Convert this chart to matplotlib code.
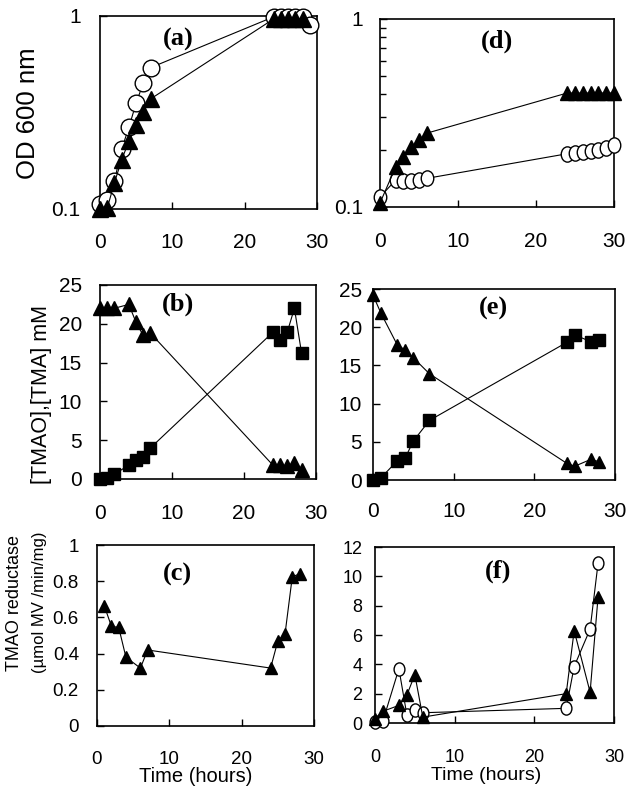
import matplotlib
matplotlib.use("Agg")
import matplotlib.pyplot as plt
from matplotlib.path import Path
from matplotlib.transforms import Affine2D
from matplotlib.ticker import FixedLocator, NullLocator, FixedFormatter

# ---------------- data ----------------
# (a) OD600
a_circ_t = [0, 1, 2, 3, 4, 5, 6, 7, 24, 25, 26, 27, 28, 29]
a_circ_od = [0.106, 0.111, 0.14, 0.205, 0.265, 0.355, 0.45, 0.54, 0.99, 0.99, 0.99, 0.99, 0.99, 0.9]
a_tri_t = [0, 1, 2, 3, 4, 5, 6, 7, 24, 25, 26, 27, 28]
a_tri_od = [0.1, 0.101, 0.137, 0.18, 0.225, 0.272, 0.318, 0.372, 0.965, 0.965, 0.965, 0.965, 0.965]

# (d) OD600
d_tri_t = [0, 2, 3, 4, 5, 6, 24, 25, 26, 27, 28, 29, 30]
d_tri_od = [0.105, 0.163, 0.184, 0.208, 0.227, 0.247, 0.404, 0.404, 0.404, 0.404, 0.404, 0.404, 0.404]
d_circ_t = [0, 2, 3, 4, 5, 6, 24, 25, 26, 27, 28, 29, 30]
d_circ_od = [0.113, 0.139, 0.137, 0.137, 0.14, 0.142, 0.192, 0.194, 0.196, 0.198, 0.201, 0.205, 0.214]

# (b) TMAO (triangles) / TMA (squares), mM
b_tri_t = [0, 1, 2, 4, 5, 6, 7, 24, 25, 26, 27, 28]
b_tri_c = [22.0, 22.0, 22.0, 22.5, 20.2, 18.5, 18.8, 1.8, 1.8, 1.7, 2.0, 1.1]
b_sq_t = [0, 1, 2, 4, 5, 6, 7, 24, 25, 26, 27, 28]
b_sq_c = [0.0, 0.1, 0.6, 1.8, 2.5, 2.8, 4.0, 18.9, 17.9, 18.9, 22.0, 16.2]

# (e)
e_tri_t = [0, 1, 3, 4, 5, 7, 24, 25, 27, 28]
e_tri_c = [24.2, 21.8, 17.7, 17.0, 16.0, 13.9, 2.2, 1.8, 2.7, 2.4]
e_sq_t = [0, 1, 3, 4, 5, 7, 24, 25, 27, 28]
e_sq_c = [0.0, 0.3, 2.5, 2.9, 5.1, 7.8, 18.0, 19.0, 18.1, 18.3]

# (c) TMAO reductase
c_tri_t = [1, 2, 3, 4, 6, 7, 24, 25, 26, 27, 28]
c_tri_v = [0.665, 0.55, 0.545, 0.38, 0.32, 0.42, 0.32, 0.47, 0.51, 0.825, 0.84]

# (f) TMAO reductase
f_circ_t = [0, 1, 3, 4, 5, 6, 24, 25, 27, 28]
f_circ_v = [0.1, 0.15, 3.7, 0.55, 0.9, 0.7, 1.0, 3.85, 6.4, 10.9]
f_tri_t = [0, 1, 3, 4, 5, 6, 24, 25, 27, 28]
f_tri_v = [0.3, 0.8, 1.2, 1.9, 3.3, 0.4, 2.0, 6.3, 2.1, 8.6]

x_ticks = [0, 10, 20, 30]
x_ticklabels = ["0", "10", "20", "30"]

# ---------------- figure ----------------
W, H = 631, 799
fig = plt.figure(figsize=(W / 100, H / 100), dpi=100)
SANS = "Liberation Sans"
SERIF = "Liberation Serif"

def add_ax(x0, x1, y0, y1):
    return fig.add_axes([x0 / W, 1 - y1 / H, (x1 - x0) / W, (y1 - y0) / H])

ellipse = Path.unit_circle().transformed(Affine2D().scale(0.82, 1.0))

def style(ax, fs, xpad, ypad):
    for s in ax.spines.values():
        s.set_linewidth(1.2)
    ax.set_xlim(0, 30)
    ax.xaxis.set_major_locator(FixedLocator(x_ticks))
    ax.xaxis.set_major_formatter(FixedFormatter(x_ticklabels))
    ax.tick_params(axis="x", direction="in", length=5, width=1, pad=xpad, labelsize=fs)
    ax.tick_params(axis="y", direction="in", length=5, width=1, pad=ypad, labelsize=fs)
    for lab in ax.get_xticklabels() + ax.get_yticklabels():
        lab.set_fontfamily(SANS)

def plot(ax, x, y, marker, ms, mfc, z):
    ax.plot(x, y, color="black", lw=0.8, marker=marker, ms=ms, mfc=mfc, mec="black",
            mew=1.0, clip_on=False, zorder=z)

PL = 19  # panel label size

# (a)
ax = add_ax(100, 317, 16, 209)
ax.set_yscale("log")
ax.set_ylim(0.1, 1)
plot(ax, a_circ_t, a_circ_od, "o", 12, "white", 3)
plot(ax, a_tri_t, a_tri_od, "^", 12, "black", 4)
ax.yaxis.set_major_locator(FixedLocator([0.1, 1]))
ax.yaxis.set_major_formatter(FixedFormatter(["0.1", "1"]))
ax.yaxis.set_minor_locator(NullLocator())
style(ax, 15, 17, 14)
ax.text(0.36, 0.88, "(a)", transform=ax.transAxes, ha="center", va="center",
        fontsize=PL, fontweight="bold", family=SERIF)

# (d)
ax = add_ax(380, 614, 19, 207)
ax.set_yscale("log")
ax.set_ylim(0.1, 1)
plot(ax, d_circ_t, d_circ_od, ellipse, 11, "white", 3)
plot(ax, d_tri_t, d_tri_od, "^", 10.5, "black", 4)
ax.yaxis.set_major_locator(FixedLocator([0.1, 1]))
ax.yaxis.set_major_formatter(FixedFormatter(["0.1", "1"]))
ax.yaxis.set_minor_locator(FixedLocator([0.2, 0.3, 0.4, 0.5, 0.6, 0.7, 0.8, 0.9]))
ax.yaxis.set_minor_formatter(FixedFormatter([""] * 8))
style(ax, 15, 18, 12)
ax.tick_params(axis="y", which="minor", direction="in", length=4, width=1)
ax.text(0.50, 0.88, "(d)", transform=ax.transAxes, ha="center", va="center",
        fontsize=PL, fontweight="bold", family=SERIF)

# (b)
ax = add_ax(100, 316, 285, 479)
ax.set_ylim(0, 25)
plot(ax, b_sq_t, b_sq_c, "s", 8.5, "black", 3)
plot(ax, b_tri_t, b_tri_c, "^", 9.5, "black", 4)
ax.yaxis.set_major_locator(FixedLocator([0, 5, 10, 15, 20, 25]))
style(ax, 15, 18, 13)
ax.text(0.36, 0.9, "(b)", transform=ax.transAxes, ha="center", va="center",
        fontsize=PL, fontweight="bold", family=SERIF)

# (e)
ax = add_ax(373, 615, 289, 480)
ax.set_ylim(0, 25)
plot(ax, e_sq_t, e_sq_c, "s", 8.5, "black", 3)
plot(ax, e_tri_t, e_tri_c, "^", 9, "black", 4)
ax.yaxis.set_major_locator(FixedLocator([0, 5, 10, 15, 20, 25]))
style(ax, 15, 16, 8)
ax.text(0.497, 0.9, "(e)", transform=ax.transAxes, ha="center", va="center",
        fontsize=PL, fontweight="bold", family=SERIF)

# (c)
ax = add_ax(97, 314, 545, 726)
ax.set_ylim(0, 1)
plot(ax, c_tri_t, c_tri_v, "^", 9, "black", 4)
ax.yaxis.set_major_locator(FixedLocator([0, 0.2, 0.4, 0.6, 0.8, 1]))
ax.yaxis.set_major_formatter(FixedFormatter(["0", "0.2", "0.4", "0.6", "0.8", "1"]))
style(ax, 13.5, 18, 13)
ax.text(0.37, 0.84, "(c)", transform=ax.transAxes, ha="center", va="center",
        fontsize=PL, fontweight="bold", family=SERIF)

# (f)
ax = add_ax(375, 614, 547, 723)
ax.set_ylim(0, 12)
plot(ax, f_circ_t, f_circ_v, ellipse, 9.5, "white", 3)
plot(ax, f_tri_t, f_tri_v, "^", 8.5, "black", 4)
ax.yaxis.set_major_locator(FixedLocator([0, 2, 4, 6, 8, 10, 12]))
style(ax, 13, 19, 9)
ax.text(0.515, 0.86, "(f)", transform=ax.transAxes, ha="center", va="center",
        fontsize=PL, fontweight="bold", family=SERIF)

# axis labels
fig.text(28 / W, 1 - 113 / H, "OD 600 nm", rotation=90, ha="center", va="center",
         fontsize=18.5, family=SANS)
fig.text(42 / W, 1 - 395 / H, "[TMAO],[TMA] mM", rotation=90, ha="center", va="center",
         fontsize=15.5, family=SANS)
fig.text(15 / W, 1 - 603 / H, "TMAO reductase", rotation=90, ha="center", va="center",
         fontsize=13, family=SANS)
fig.text(40 / W, 1 - 602 / H, "(\u00b5mol MV /min/mg)", rotation=90, ha="center", va="center",
         fontsize=12, family=SANS)
fig.text(196 / W, 1 - 777 / H, "Time (hours)", ha="center", va="center",
         fontsize=14.5, family=SANS)
fig.text(486 / W, 1 - 775 / H, "Time (hours)", ha="center", va="center",
         fontsize=14, family=SANS)

fig.savefig("out.png", dpi=100, facecolor="white")
